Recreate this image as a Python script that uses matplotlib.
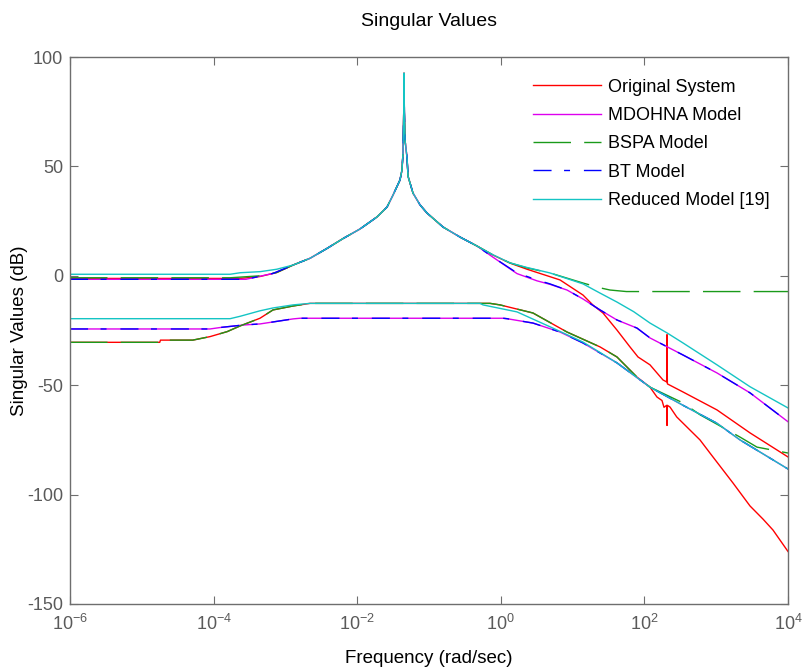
import numpy as np
import matplotlib
matplotlib.use("Agg")
import matplotlib.pyplot as plt
from matplotlib.ticker import FixedLocator, NullLocator, FixedFormatter

plt.rcParams['font.family'] = ['Liberation Sans', 'DejaVu Sans']
plt.rcParams['mathtext.default'] = 'regular'
plt.rcParams['lines.scale_dashes'] = False

# ---------------- data (log10 of frequency in rad/s, singular value in dB) -------------
# shared resonance region of the first singular value (all models coincide here)
peak_logw = [-2.894, -2.657, -2.421, -2.198, -1.961, -1.724, -1.585, -1.501, -1.404,
             -1.376, -1.362, -1.352, -1.348, -1.343, -1.334, -1.306, -1.292, -1.223,
             -1.125, -1.028, -0.805, -0.568, -0.331]
peak_db = [4.9, 8.0, 12.5, 17.0, 21.4, 26.9, 31.4, 36.9, 43.8,
           48.4, 56.2, 75.0, 92.6, 75.0, 62.0, 54.0, 45.5, 37.8,
           32.4, 28.7, 22.3, 17.7, 13.6]

# Original System
orig_hi_logw = [-6, -3.63, -3.35, -3.12] + peak_logw + [-0.109, 0.128, 0.365, 0.685, 0.825, 1.145,
                1.284, 1.423, 1.618, 1.799, 1.911, 2.078, 2.259, 2.310, 2.315, 2.320, 2.538,
                3.011, 3.471, 4.0]
orig_hi_db = [-1.2, -1.2, -0.3, 1.5] + peak_db + [9.5, 5.8, 3.0, -0.4, -1.9, -8.8,
              -13.4, -17.0, -24.8, -32.5, -37.1, -40.7, -47.6, -48.5, -26.9, -49.4, -53.1,
              -61.3, -71.8, -82.8]
orig_lo_logw = [-6, -4.75, -4.74, -4.29, -4.05, -3.81, -3.63, -3.354, -3.173, -2.894, -2.657,
                -0.15, -0.011, 0.448, 0.922, 1.382, 1.618, 1.897, 2.078, 2.175, 2.245, 2.273,
                2.310, 2.315, 2.320, 2.357, 2.450, 2.635, 2.774, 2.913, 3.234, 3.471, 3.652,
                3.791, 4.0]
orig_lo_db = [-30.4, -30.4, -29.4, -29.4, -27.8, -25.5, -22.9, -19.4, -15.6, -13.8, -12.6,
              -12.6, -13.3, -17.0, -25.7, -32.5, -37.1, -46.3, -50.9, -55.4, -57.0, -60.1,
              -59.2, -68.4, -59.2, -60.0, -64.5, -70.5, -75.0, -81.0, -94.7, -105.2, -111.2,
              -116.2, -126.0]

# MDOHNA Model
mdo_hi_logw = [-6, -3.55, -3.17] + peak_logw + [-0.109, 0.226, 0.504, 0.685, 0.922, 1.145,
               1.382, 1.618, 1.897, 2.078, 2.538, 3.011, 3.471, 4.0]
mdo_hi_db = [-1.6, -1.6, 1.1] + peak_db + [8.5, 1.0, -2.3, -3.9, -6.5, -10.6,
             -15.6, -20.2, -23.9, -28.4, -36.2, -44.4, -53.5, -66.7]
mdo_lo_logw = [-6, -4.05, -3.90, -3.59, -3.354, -2.894, -2.797, 0.031, 0.086, 0.448, 0.825,
               1.145, 1.618, 2.078, 2.538, 3.011, 3.331, 4.0]
mdo_lo_db = [-24.3, -24.3, -23.6, -22.5, -22.0, -19.7, -19.4, -19.4, -19.6, -21.6, -25.7,
             -30.7, -39.8, -50.9, -59.2, -67.4, -75.0, -88.3]

# BSPA Model
bspa_hi_logw = [-6, -3.77, -3.35, -3.12] + peak_logw + [-0.109, 0.128, 0.365, 0.685, 1.145,
                1.382, 1.521, 1.75, 4.0]
bspa_hi_db = [-0.9, -0.9, 0.0, 1.5] + peak_db + [9.5, 5.9, 3.6, 1.3, -3.3,
              -5.5, -6.5, -7.2, -7.2]
bspa_lo_logw = [-6, -4.75, -4.74, -4.29, -4.05, -3.81, -3.63, -3.354, -3.173, -2.894, -2.657,
                -0.15, -0.011, 0.448, 0.922, 1.382, 1.618, 1.897, 2.078, 2.538, 2.774,
                3.331, 3.568, 4.0]
bspa_lo_db = [-30.4, -30.4, -29.4, -29.4, -27.8, -25.5, -22.9, -19.4, -15.6, -13.8, -12.6,
              -12.6, -13.3, -17.0, -25.7, -32.5, -37.1, -46.3, -50.9, -58.1, -63.5,
              -73.7, -78.3, -81.0]

# BT Model
bt_hi_logw = [-6, -3.55, -3.17] + peak_logw + [-0.109, 0.226, 0.504, 0.685, 0.922, 1.145,
              1.382, 1.618, 1.897, 2.078, 2.538, 3.011, 3.471, 4.0]
bt_hi_db = [-1.6, -1.6, 1.1] + peak_db + [8.5, 1.3, -1.9, -3.7, -6.5, -10.6,
            -15.6, -20.2, -23.9, -28.4, -36.2, -44.4, -53.5, -66.7]
bt_lo_logw = [-6, -4.05, -3.90, -3.59, -3.354, -2.894, -2.797, 0.031, 0.086, 0.448, 0.825,
              1.145, 1.618, 2.078, 2.538, 3.011, 3.331, 4.0]
bt_lo_db = [-24.3, -24.3, -23.6, -22.5, -22.0, -19.7, -19.4, -19.4, -19.6, -21.6, -25.7,
            -30.7, -39.8, -50.9, -59.2, -67.4, -75.0, -88.3]

# Reduced Model [19]
red_hi_logw = [-6, -3.77, -3.63, -3.35, -3.12] + peak_logw + [-0.109, 0.128, 0.365, 0.685,
               1.145, 1.382, 1.618, 1.851, 2.078, 2.315, 2.538, 3.011, 3.471, 4.0]
red_hi_db = [0.7, 0.7, 1.4, 1.9, 3.0] + peak_db + [9.6, 5.9, 3.8, 1.3,
             -3.7, -7.9, -12.0, -16.4, -21.6, -26.1, -30.7, -40.7, -50.7, -60.4]
red_lo_logw = [-6, -3.77, -3.63, -3.354, -3.173, -2.894, -2.657, -0.29, -0.248, 0.226,
               0.685, 1.145, 1.618, 2.078, 2.538, 3.011, 3.331, 4.0]
red_lo_db = [-19.6, -19.6, -18.5, -16.0, -14.7, -13.3, -12.6, -12.6, -13.3, -16.5,
             -23.3, -30.3, -39.8, -50.9, -59.2, -67.4, -75.0, -88.3]

labels = ["Original System", "MDOHNA Model", "BSPA Model", "BT Model", "Reduced Model [19]"]
xticks_exp = [-6, -4, -2, 0, 2, 4]
yticks = [100, 50, 0, -50, -100, -150]

# ---------------- styles -------------
colors = ['#ff0000', '#dd00ee', '#1a9a1a', '#0000ff', '#14c4c4']
styles = ['-', '-', (0, (27, 9.5)), (0, (13, 9, 4.3, 10)), '-']

series = [
    (orig_hi_logw, orig_hi_db, orig_lo_logw, orig_lo_db),
    (mdo_hi_logw, mdo_hi_db, mdo_lo_logw, mdo_lo_db),
    (bspa_hi_logw, bspa_hi_db, bspa_lo_logw, bspa_lo_db),
    (bt_hi_logw, bt_hi_db, bt_lo_logw, bt_lo_db),
    (red_hi_logw, red_hi_db, red_lo_logw, red_lo_db),
]

fig = plt.figure(figsize=(8.05, 6.70), dpi=100)
ax = fig.add_axes([70/805, 1 - 604/670, (788 - 70)/805, (604 - 57)/670])

lw = 1.0
for (hx, hy, lx, ly), c, ls, lab in zip(series, colors, styles, labels):
    ax.plot(10.0 ** np.array(hx), hy, color=c, linestyle=ls, lw=lw, label=lab)
    ax.plot(10.0 ** np.array(lx), ly, color=c, linestyle=ls, lw=lw)

ax.set_xscale('log')
ax.set_xlim(1e-6, 1e4)
ax.set_ylim(-150, 100)
ax.xaxis.set_major_locator(FixedLocator([10.0 ** e for e in xticks_exp]))
ax.xaxis.set_major_formatter(FixedFormatter(['$10^{%d}$' % e for e in xticks_exp]))
ax.xaxis.set_minor_locator(NullLocator())
ax.set_yticks(yticks)
ax.set_yticklabels([str(v) for v in yticks])

gray = '#5a5a5a'
for s in ax.spines.values():
    s.set_color('#6e6e6e')
    s.set_linewidth(1.0)
ax.tick_params(axis='both', which='major', direction='in', top=True, right=True,
               length=6, width=0.8, color='#6e6e6e', labelcolor=gray, labelsize=13)
ax.tick_params(axis='x', pad=7)
ax.tick_params(axis='y', pad=5)

ax.set_title('Singular Values', fontsize=14, pad=22)
ax.set_xlabel('Frequency (rad/sec)', fontsize=13.5)
ax.xaxis.set_label_coords(0.5, (604 - 650) / 547)
ax.xaxis.label.set_va('top')
ax.set_ylabel('Singular Values (dB)', fontsize=13.5)
ax.yaxis.set_label_coords(-(70 - 28) / 718, 0.5)

leg = ax.legend(loc='upper left', bbox_to_anchor=((533 - 70) / 718, (604 - 78.5) / 547),
                frameon=False, fontsize=13, handlelength=3.75, handletextpad=0.4,
                borderpad=0, borderaxespad=0, labelspacing=0.63)

fig.savefig('out.png', dpi=100)
